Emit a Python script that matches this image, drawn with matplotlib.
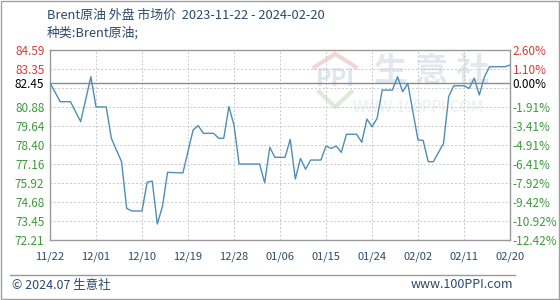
import matplotlib
matplotlib.use("Agg")
import matplotlib.pyplot as plt
import pandas as pd

plt.rcParams['font.family'] = ['Noto Sans CJK SC', 'DejaVu Sans']

# Brent price readings (date, price)
dates = ["2023-11-22", "2023-11-24", "2023-11-26", "2023-11-28", "2023-11-30",
         "2023-12-01", "2023-12-03", "2023-12-04", "2023-12-06", "2023-12-07",
         "2023-12-08", "2023-12-10", "2023-12-11", "2023-12-12", "2023-12-13",
         "2023-12-14", "2023-12-15", "2023-12-18", "2023-12-20", "2023-12-21",
         "2023-12-22", "2023-12-24", "2023-12-25", "2023-12-26", "2023-12-27",
         "2023-12-28", "2023-12-29", "2024-01-02", "2024-01-03", "2024-01-04",
         "2024-01-05", "2024-01-07", "2024-01-08", "2024-01-09", "2024-01-10",
         "2024-01-11", "2024-01-12", "2024-01-14", "2024-01-15", "2024-01-16",
         "2024-01-17", "2024-01-18", "2024-01-19", "2024-01-21", "2024-01-22",
         "2024-01-23", "2024-01-24", "2024-01-25", "2024-01-26", "2024-01-28",
         "2024-01-29", "2024-01-30", "2024-01-31", "2024-02-02", "2024-02-03",
         "2024-02-04", "2024-02-05", "2024-02-07", "2024-02-08", "2024-02-09",
         "2024-02-11", "2024-02-12", "2024-02-13", "2024-02-14", "2024-02-15",
         "2024-02-16", "2024-02-19", "2024-02-20"]
prices = [82.45, 81.22, 81.22, 79.92, 82.85,
          80.88, 80.88, 78.84, 77.31, 74.27,
          74.10, 74.10, 75.97, 76.05, 73.25,
          74.40, 76.62, 76.58, 79.38, 79.66,
          79.16, 79.16, 78.84, 78.84, 80.90,
          79.70, 77.16, 77.16, 75.94, 78.25,
          77.60, 77.60, 78.77, 76.18, 77.53,
          76.82, 77.42, 77.42, 78.33, 78.18,
          78.33, 77.92, 79.10, 79.10, 78.58,
          80.09, 79.59, 80.14, 81.98, 81.98,
          82.85, 81.87, 82.42, 78.73, 78.70,
          77.31, 77.31, 78.51, 81.55, 82.26,
          82.26, 82.09, 82.75, 81.66, 82.85,
          83.50, 83.50, 83.61]

base = 82.45
y_ticks = [84.59, 83.35, 82.45, 80.88, 79.64, 78.40, 77.16, 75.92, 74.68, 73.45, 72.21]
pct_labels = ["2.60%", "1.10%", "0.00%", "-1.91%", "-3.41%", "-4.91%", "-6.41%",
              "-7.92%", "-9.42%", "-10.92%", "-12.42%"]
grid_vals = [84.59, 83.35, 82.11, 80.88, 79.64, 78.40, 77.16, 75.92, 74.68, 73.45, 72.21]
x_labels = ["11/22", "12/01", "12/10", "12/19", "12/28", "01/06", "01/15",
            "01/24", "02/02", "02/11", "02/20"]

start = pd.Timestamp(dates[0])
days = [(pd.Timestamp(d) - start).days for d in dates]
x_ticks = [9 * i for i in range(len(x_labels))]

RED = '#d43c3c'
GREEN = '#3c9a3c'
TXT = '#2a4a6b'

fig = plt.figure(figsize=(5.6, 3.0), dpi=100)
fig.patch.set_facecolor('white')
ax = fig.add_axes([50 / 560, 1 - 240 / 300, 460 / 560, 190 / 300])

ax.set_xlim(0, 90)
ax.set_ylim(72.21, 84.59)

for g in grid_vals[1:-1]:
    ax.axhline(g, color='#c8c8c8', lw=0.7, ls=(0, (2, 2)), zorder=1)
for t in x_ticks[1:-1]:
    ax.axvline(t, color='#c8c8c8', lw=0.7, ls=(0, (2, 2)), zorder=1)
ax.axhline(base, color='#8c8c8c', lw=1.0, zorder=2)

# watermark
ax.text(0.83, 0.885, "生 意 社", transform=ax.transAxes, fontsize=24,
        color='#e3e8ee', ha='center', va='center', zorder=0, fontweight='bold')
ax.text(0.80, 0.70, "WWW.100PPI.COM", transform=ax.transAxes, fontsize=11,
        color='#ebeef2', ha='center', va='center', zorder=0)
ax.text(0.62, 0.85, "PPI", transform=ax.transAxes, fontsize=17,
        color='#e0e6ee', ha='center', va='center', zorder=0, fontweight='bold')
ax.plot([0.575, 0.62, 0.665], [0.91, 0.98, 0.91], transform=ax.transAxes,
        color='#f2d6d6', lw=3, zorder=0)
ax.plot([0.585, 0.62, 0.655], [0.78, 0.70, 0.78], transform=ax.transAxes,
        color='#d8ecd8', lw=3, zorder=0)

ax.plot(days, prices, color='#4f8db5', lw=1.0, zorder=3)

for s in ax.spines.values():
    s.set_color('#9a9a9a')
    s.set_linewidth(1.0)

ax.set_xticks(x_ticks)
ax.set_xticklabels(x_labels, fontsize=8, color=TXT)
ax.set_yticks(y_ticks)
ax.set_yticklabels([f"{v:.2f}" for v in y_ticks], fontsize=8.5)
ax.tick_params(length=0, pad=8)
ax.tick_params(axis='y', pad=4)
for lbl, v in zip(ax.get_yticklabels(), y_ticks):
    lbl.set_color(RED if v > base else ('black' if v == base else GREEN))

ax2 = ax.twinx()
ax2.set_ylim(ax.get_ylim())
ax2.set_yticks(y_ticks)
ax2.set_yticklabels(pct_labels, fontsize=8.5)
ax2.tick_params(length=0, pad=2)
for lbl, v in zip(ax2.get_yticklabels(), y_ticks):
    lbl.set_color(RED if v > base else ('black' if v == base else GREEN))
for s in ax2.spines.values():
    s.set_visible(False)

fig.text(47 / 560, 1 - 15 / 300, "Brent原油 外盘 市场价  2023-11-22 - 2024-02-20",
         fontsize=9.3, color=TXT, va='center')
fig.text(47 / 560, 1 - 33 / 300, "种类:Brent原油;", fontsize=9.3, color=TXT, va='center')

fig.add_artist(plt.Line2D([10 / 560, 515 / 560], [1 - 275 / 300] * 2,
                          color='#9a9a9a', lw=1.0))
fig.text(12 / 560, 1 - 285 / 300, "© 2024.07 生意社", fontsize=9, color=TXT, va='center')
fig.text(513 / 560, 1 - 285 / 300, "www.100PPI.com", fontsize=9, color=TXT,
         va='center', ha='right')
fig.add_artist(plt.Rectangle((0.001, 0.002), 0.997, 0.995, transform=fig.transFigure,
                             fill=False, edgecolor='#a0a0a0', lw=1.0))

fig.savefig("out.png", dpi=100)
